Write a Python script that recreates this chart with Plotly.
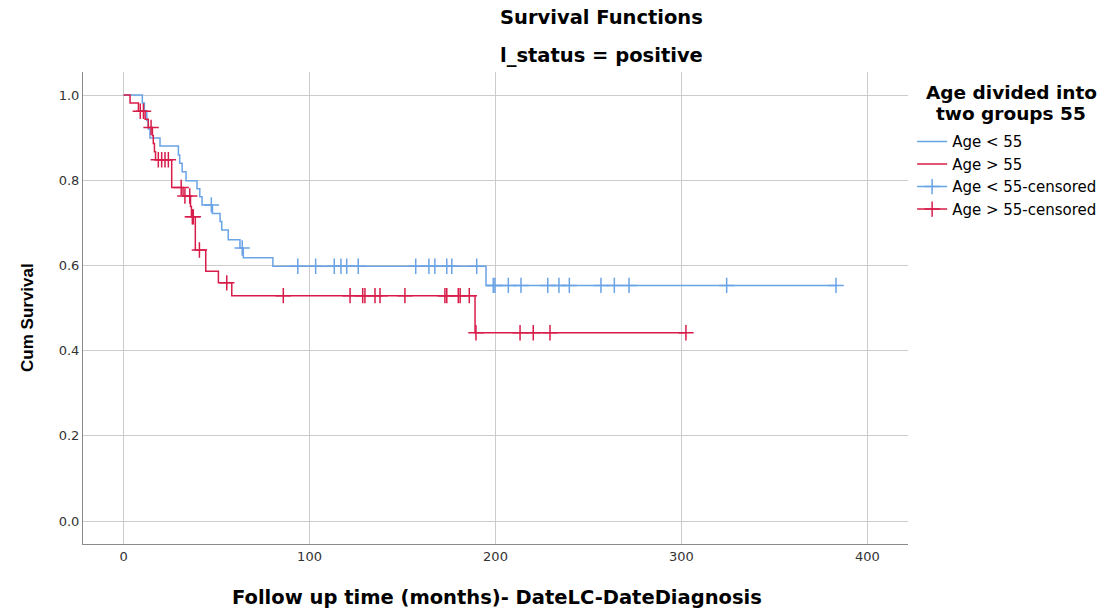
import numpy as np
import plotly.graph_objects as go

# ---- data (Kaplan-Meier steps) ----
blue_name = "Age < 55"
red_name = "Age > 55"

blue_times = [0, 10.1, 11.2, 12.5, 13.3, 14.2, 19.6, 29.5, 30.2, 31.5, 33.6, 39.5, 41.0,
              42.2, 47.8, 51.9, 52.8, 56.3, 62.6, 64.4, 80.3, 194.9, 383.1]
blue_surv = [1.0, 0.981, 0.962, 0.940, 0.920, 0.899, 0.880, 0.859, 0.840, 0.820, 0.799, 0.780,
             0.761, 0.742, 0.722, 0.703, 0.683, 0.660, 0.641, 0.618, 0.598, 0.553, 0.553]
blue_censored = [47.2, 63.8, 93.7, 103.3, 113.3, 116.9, 120.0, 126.2, 157.1, 164.2, 167.4,
                 173.8, 176.5, 189.9, 198.8, 199.7, 206.9, 213.7, 228.1, 234.1, 239.7, 256.7,
                 263.9, 271.8, 324.3, 383.1]

red_times = [0, 3.5, 8.0, 11.6, 13.3, 15.5, 16.0, 16.6, 17.2, 25.9, 32.0, 36.0, 36.5, 38.6,
             44.2, 51.0, 58.2, 189.0, 302.4]
red_surv = [1.0, 0.981, 0.962, 0.943, 0.924, 0.905, 0.886, 0.867, 0.848, 0.783, 0.763, 0.738,
            0.714, 0.636, 0.586, 0.559, 0.529, 0.442, 0.442]
red_censored = [9.0, 10.7, 14.8, 18.7, 20.5, 22.3, 24.1, 31.0, 33.0, 35.6, 37.0, 37.5, 40.8,
                55.5, 85.9, 121.8, 128.6, 129.8, 135.2, 137.9, 151.3, 172.8, 173.8, 180.0,
                181.0, 185.9, 189.5, 213.2, 220.3, 229.3, 302.4]

x_ticks = [0, 100, 200, 300, 400]
y_ticks = [0.0, 0.2, 0.4, 0.6, 0.8, 1.0]

BLUE = "#6aa3e6"
RED = "#d81c4a"
FONT = "DejaVu Sans"


def step_value(times, surv, t):
    i = np.searchsorted(np.array(times), t, side="right") - 1
    return surv[max(i, 0)]


def isolated(times, surv, cens):
    xs, ys = [], []
    for t in cens:
        xs += [t, None]
        ys += [step_value(times, surv, t), None]
    return xs, ys


fig = go.Figure()
fig.add_trace(go.Scatter(x=blue_times, y=blue_surv, mode="lines", line_shape="hv",
                         line=dict(color=BLUE, width=1.5), name=blue_name))
fig.add_trace(go.Scatter(x=red_times, y=red_surv, mode="lines", line_shape="hv",
                         line=dict(color=RED, width=1.5), name=red_name))
bx, by = isolated(blue_times, blue_surv, blue_censored)
fig.add_trace(go.Scatter(x=bx, y=by, mode="lines+markers", connectgaps=False,
                         line=dict(color=BLUE, width=1.5),
                         marker=dict(symbol="cross-thin", size=11,
                                     line=dict(color=BLUE, width=1.5)),
                         name=blue_name + "-censored"))
rx, ry = isolated(red_times, red_surv, red_censored)
fig.add_trace(go.Scatter(x=rx, y=ry, mode="lines+markers", connectgaps=False,
                         line=dict(color=RED, width=1.5),
                         marker=dict(symbol="cross-thin", size=11,
                                     line=dict(color=RED, width=1.5)),
                         name=red_name + "-censored"))

axis_common = dict(showgrid=True, gridcolor="#cccccc", gridwidth=1, zeroline=False,
                   showline=True, linecolor="#8a8a8a", linewidth=1, ticks="",
                   tickfont=dict(family=FONT, size=13, color="#333333"))

fig.update_layout(
    width=1116, height=611,
    margin=dict(l=83, r=208, t=72, b=67, autoexpand=False),
    paper_bgcolor="white", plot_bgcolor="white",
    font=dict(family=FONT, color="#000000"),
    xaxis=dict(range=[-21.8, 421.8], tickvals=x_ticks, **axis_common),
    yaxis=dict(range=[-0.054, 1.054], tickvals=y_ticks, tickformat=".1f", **axis_common),
    legend=dict(x=1.005, xanchor="left", y=0.887, yanchor="top",
                font=dict(family=FONT, size=15, color="#000000"),
                bgcolor="rgba(0,0,0,0)"),
    showlegend=True,
)

def txt(s, x, y, size, angle=0, family=FONT):
    fig.add_annotation(text=s, xref="paper", yref="paper", x=x, y=y, xanchor="center",
                       yanchor="middle", showarrow=False, textangle=angle,
                       font=dict(family=family, size=size, color="#000000"))

txt("<b>Survival Functions</b>", 0.628, 1.1165, 19.5)
txt("<b>l_status = positive</b>", 0.628, 1.036, 19.5)
txt("<b>Follow up time (months)- DateLC-DateDiagnosis</b>", 0.502, -0.1123, 19.5)
txt("<b>Cum Survival</b>", -0.0667, 0.481, 17, angle=-90, family="Liberation Sans")
# legend title, centred over the legend entries
txt("<b>Age divided into</b>", 1.125, 0.9576, 18.5)
txt("<b>two groups 55</b>", 1.125, 0.9131, 18.5)

fig.write_html("out.html")
